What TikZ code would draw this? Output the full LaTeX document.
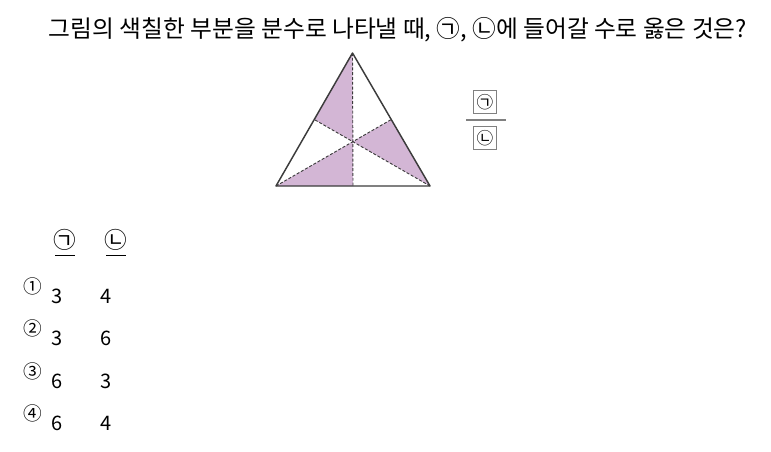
\documentclass[tikz,border=0pt]{standalone}
\usepackage{fontspec}
\setmainfont{Noto Sans CJK KR}
\usetikzlibrary{calc}
\definecolor{lilac}{RGB}{211,182,213}
\definecolor{edge}{RGB}{60,60,60}

\begin{document}
\begin{tikzpicture}[x=0.75pt,y=-0.75pt,
    cut/.style={edge,line width=0.7pt,dash pattern=on 2.2pt off 1.4pt},
    blank/.style={draw=gray,line width=0.6pt,minimum size=17pt,inner sep=0pt,font=\fontsize{12.5}{13}\selectfont},
    num/.style={font=\fontsize{15}{17}\selectfont},
    choice/.style={font=\fontsize{14}{15}\selectfont}]
\useasboundingbox (0,0) rectangle (771,451);
% question
\node[font=\fontsize{17.8}{20}\selectfont] (title) at (398,30) {그림의 색칠한 부분을 분수로 나타낼 때, ㉠, ㉡에 들어갈 수로 옳은 것은?};
% triangle and its medians
\coordinate (A) at (352.5,53);
\coordinate (B) at (276,186);
\coordinate (C) at (430,186);
\coordinate (Mab) at ($(A)!0.5!(B)$);
\coordinate (Mac) at ($(A)!0.5!(C)$);
\coordinate (Mbc) at ($(B)!0.5!(C)$);
\coordinate (G) at ($(A)!2/3!(Mbc)$);
\fill[lilac] (A) -- (Mab) -- (G) -- cycle;
\fill[lilac] (Mac) -- (C) -- (G) -- cycle;
\fill[lilac] (B) -- (Mbc) -- (G) -- cycle;
\draw[cut] (A) -- (Mbc);
\draw[cut] (B) -- (Mac);
\draw[cut] (C) -- (Mab);
\draw[edge,line width=1.1pt,line join=round] (A) -- (B) -- (C) -- cycle;
% fraction
\node[blank] (top) at (485,102) {㉠};
\node[blank] (bot) at (485,138) {㉡};
\coordinate (barL) at (466,120);
\coordinate (barR) at (506,120);
\draw[gray,line width=1pt] (barL) -- (barR);
% answer table
\node[font=\fontsize{17}{18}\selectfont] (h1) at (65,240) {㉠};
\node[font=\fontsize{17}{18}\selectfont] (h2) at (116,240) {㉡};
\draw[line width=1pt] ($(h1.south)+(-10,0)$) -- ($(h1.south)+(10,0)$);
\draw[line width=1pt] ($(h2.south)+(-10,0)$) -- ($(h2.south)+(10,0)$);
\foreach \m/\a/\b [count=\i] in {①/3/4,②/3/6,③/6/3,④/6/4}{
    \node[choice] (m\i) at (33,{286+(\i-1)*42.5}) {\m};
    \node[num] (a\i) at (57,{296+(\i-1)*42.5}) {\a};
    \node[num] (b\i) at (106,{296+(\i-1)*42.5}) {\b};
}
\end{tikzpicture}
\end{document}
